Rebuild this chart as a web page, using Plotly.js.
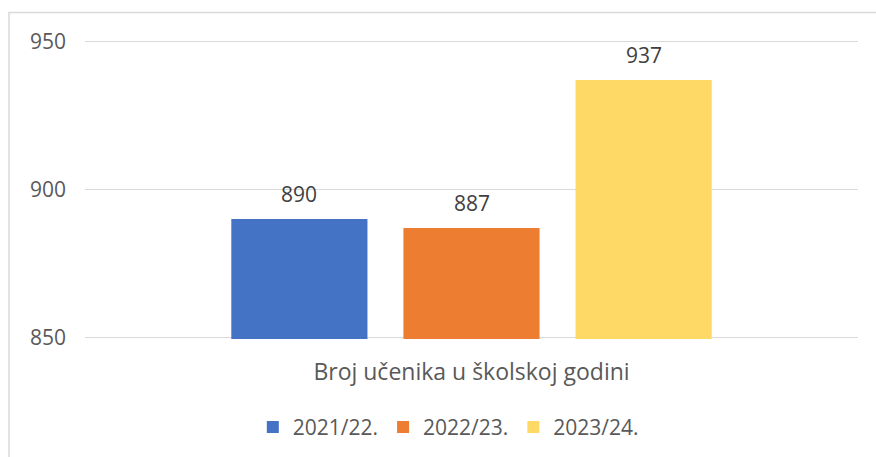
<!DOCTYPE html>
<html>
<head>
<meta charset="utf-8">
<script src="https://cdn.plot.ly/plotly-3.0.1.min.js"></script>
<style>html,body{margin:0;padding:0;background:#fff;}#chart{width:876px;height:457px;}</style>
</head>
<body>
<div id="chart"></div>
<script>
const category = ["Broj učenika u školskoj godini"];
const seriesNames = ["2021/22.", "2022/23.", "2023/24."];
const seriesValues = [890, 887, 937];
const colors = ["#4472C4", "#ED7D31", "#FFD966"];
const yTicks = [850, 900, 950];

const bargap = 0.332;
const traces = seriesNames.map((n, i) => ({
  type: "bar", name: n, x: category, y: [seriesValues[i]],
  marker: {color: colors[i]}, hoverinfo: "none"
}));

const slot = (1 - bargap) / seriesNames.length;
const annotations = seriesValues.map((v, i) => ({
  xref: "x", yref: "y",
  x: (i - (seriesNames.length - 1) / 2) * slot,
  y: v, text: String(v), showarrow: false,
  yanchor: "middle", yshift: 25,
  font: {family: "Open Sans", size: 21, color: "#404040"}
}));

const layout = {
  width: 876, height: 457,
  margin: {l: 85, r: 18, t: 40, b: 118, autoexpand: false},
  paper_bgcolor: "#fff", plot_bgcolor: "#fff",
  barmode: "group", bargap: bargap, bargroupgap: 0.209,
  font: {family: "Open Sans", size: 21, color: "#595959"},
  xaxis: {type: "category", showgrid: false, zeroline: false, showline: false,
          ticks: "", ticklabelstandoff: 17, fixedrange: true, automargin: false,
          tickfont: {family: "Open Sans", size: 23, color: "#595959"}},
  yaxis: {range: [849.5, 950.5], tickvals: yTicks, ticktext: yTicks.map(String),
          showgrid: true, gridcolor: "#d9d9d9", gridwidth: 1.5, zeroline: false,
          showline: false, ticks: "", ticklabelstandoff: 18, fixedrange: true, automargin: false},
  showlegend: true,
  legend: {orientation: "h", x: 0.47, xanchor: "center", yref: "container", y: 0.065, yanchor: "middle",
           font: {family: "Open Sans", size: 21, color: "#595959"}, traceorder: "normal"},
  annotations: annotations,
  shapes: [{type: "rect", xref: "paper", yref: "paper",
            x0: (9 - 85) / 773, x1: 1.5, y0: -2, y1: (339.5 - 13) / 299,
            line: {color: "#d9d9d9", width: 1.5}, layer: "below"}]
};
Plotly.newPlot("chart", traces, layout, {displayModeBar: false, staticPlot: true});
</script>
</body>
</html>
